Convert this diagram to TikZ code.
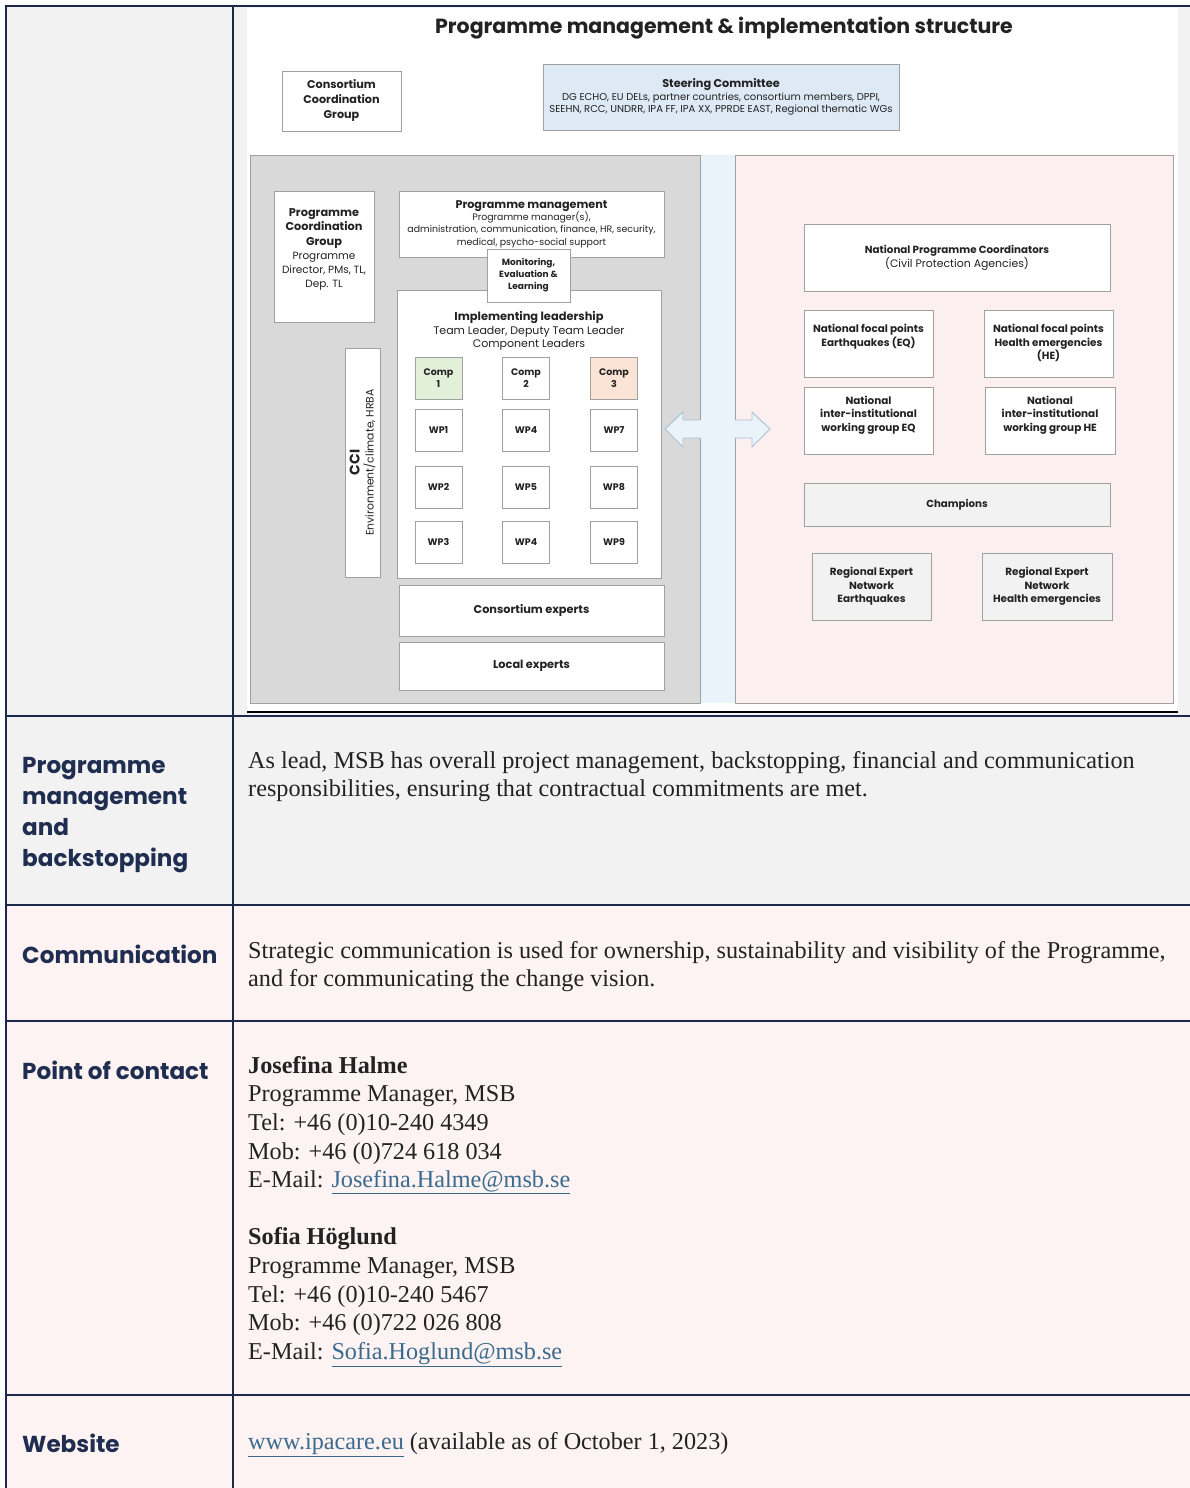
\documentclass[tikz,border=0pt]{standalone}
\usepackage{fontspec}
\setmainfont{Liberation Serif}
\newfontfamily\gothic{Poppins}
\usetikzlibrary{shadows}
\definecolor{navy}{HTML}{1B2A4A}
\definecolor{cellgray}{HTML}{F2F2F2}
\definecolor{cellpink}{HTML}{FDF3F2}
\definecolor{bxgray}{HTML}{A0A0A0}
\definecolor{panelgray}{HTML}{D9D9D9}
\definecolor{stripblue}{HTML}{EAF2FA}
\definecolor{stripline}{HTML}{A9BFD4}
\definecolor{panelpink}{HTML}{FBEFEF}
\definecolor{scblue}{HTML}{DDE9F5}
\definecolor{compgreen}{HTML}{E2EFD9}
\definecolor{comppeach}{HTML}{FBE4D5}
\definecolor{dtxt}{HTML}{222222}
\definecolor{dsub}{HTML}{5A5A5A}
\definecolor{linkblue}{HTML}{3B6A8E}
\definecolor{bodytxt}{HTML}{222222}
\definecolor{labnavy}{HTML}{1F2D50}
\newcommand\dgB[2]{\gothic\bfseries\fontsize{#1}{#2}\selectfont\color{dtxt}}
\newcommand\dgR[2]{\gothic\mdseries\fontsize{#1}{#2}\selectfont\color{dsub}}
\begin{document}
\begin{tikzpicture}[x=1pt,y=-1pt,
  box/.style={draw=bxgray, line width=0.9pt, fill=white, inner sep=0pt, align=center, text=dtxt,
    drop shadow={shadow xshift=0.8pt, shadow yshift=-1.4pt, opacity=0.35, fill=gray}},
  dlab/.style={inner sep=0pt, align=center, text=dtxt},
  sidelab/.style={inner sep=0pt, anchor=north west, align=left, text=labnavy, font=\gothic\bfseries\fontsize{23.1}{31}\selectfont},
  bodylab/.style={inner sep=0pt, anchor=north west, align=left, text=bodytxt, font=\fontsize{24.2}{28.6}\selectfont},
  tline/.style={draw=navy, line width=2.6pt},
  comp/.style={box, minimum width=47pt, minimum height=42pt, font=\dgB{9.5}{12}},
  wp/.style={box, minimum width=47pt, minimum height=42pt, font=\dgB{9.5}{12}},
  twoline/.style={font=\dgB{10.4}{13.5}}
]
\useasboundingbox (0,0) rectangle (1190,1488);
% ---------- table backgrounds ----------
\fill[white] (0,0) rectangle (1190,1488);
\fill[cellgray] (6,6) rectangle (1190,905);
\fill[cellpink] (6,905) rectangle (1190,1488);
\fill[white] (247,8) rectangle (1178,712);
% ---------- diagram ----------
\node[dlab, font=\dgB{20.5}{24}] (title) at (724,28) {Programme management \& implementation structure};
\node[box, minimum width=119pt, minimum height=60pt, font=\dgB{11.2}{15}] (ccg) at (341.5,101) {Consortium\\Coordination\\Group};
\node[box, fill=scblue, minimum width=356pt, minimum height=66pt, font=\dgR{10}{12.5}] (sc) at (721,97)
  {\dgB{11.3}{13}Steering Committee\\DG ECHO, EU DELs, partner countries, consortium members, DPPI,\\SEEHN, RCC, UNDRR, IPA FF, IPA XX, PPRDE EAST, Regional thematic WGs};
% panels
\fill[panelgray] (250,155) rectangle (700,703);
\fill[stripblue] (700,155) rectangle (735,703);
\fill[panelpink] (735,155) rectangle (1173,703);
\draw[bxgray, line width=0.9pt] (700,420) -- (700,155) -- (250,155) -- (250,703) -- (700,703) -- (700,438);
\draw[bxgray, line width=0.9pt] (735,420) -- (735,155) -- (1173,155) -- (1173,703) -- (735,703) -- (735,438);
% double arrow
\coordinate (al) at (665,429);
\coordinate (ar) at (770,429);
\fill[stripblue] (al) -- (683,412) -- (683,420) -- (752,420) -- (752,412) -- (ar) -- (752,447) -- (752,438) -- (683,438) -- (683,447) -- cycle;
\draw[stripline, line width=0.9pt, line join=round] (700,420) -- (683,420) -- (683,412) -- (al) -- (683,447) -- (683,438) -- (700,438);
\draw[stripline, line width=0.9pt, line join=round] (735,420) -- (752,420) -- (752,412) -- (ar) -- (752,447) -- (752,438) -- (735,438);
% left side boxes
\node[box, minimum width=100pt, minimum height=131pt] (pcg) at (324,256.5) {};
\node[dlab, anchor=north, font=\dgR{10.5}{14.2}] (pcgt) at ([yshift=-18pt]pcg.north) {\dgB{11.3}{15}Programme\\\dgB{11.3}{15}Coordination\\\dgB{11.3}{15}Group\\Programme\\Director, PMs, TL,\\Dep. TL};
\node[box, minimum width=265pt, minimum height=66pt, font=\dgR{9.4}{12.4}] (pm) at (531.5,224)
  {\dgB{11.2}{13}Programme management\\Programme manager(s),\\administration, communication, finance, HR, security,\\medical, psycho-social support};
\node[box, minimum width=264pt, minimum height=288pt] (il) at (529,434) {};
\node[box, minimum width=83pt, minimum height=53pt, font=\dgB{9}{12}] (mel) at (528.5,275.5) {Monitoring,\\Evaluation \&\\Learning};
\node[dlab, anchor=north, font=\dgR{11}{13.5}] (ilt) at ([yshift=-22pt]il.north) {\dgB{11.4}{14}Implementing leadership\\Team Leader, Deputy Team Leader\\Component Leaders};
\node[comp, fill=compgreen] (c1) at (438.5,378) {Comp\\1};
\node[comp] (c2) at (526,378) {Comp\\2};
\node[comp, fill=comppeach] (c3) at (614,378) {Comp\\3};
\node[wp] (wp1) at (438.5,430) {WP1};
\node[wp] (wp4a) at (526,430) {WP4};
\node[wp] (wp7) at (614,430) {WP7};
\node[wp] (wp2) at (438.5,487) {WP2};
\node[wp] (wp5) at (526,487) {WP5};
\node[wp] (wp8) at (614,487) {WP8};
\node[wp] (wp3) at (438.5,542) {WP3};
\node[wp] (wp4b) at (526,542) {WP4};
\node[wp] (wp9) at (614,542) {WP9};
\node[box, minimum width=35pt, minimum height=229pt] (cci) at (362.5,462.5) {};
\node[dlab, rotate=90, font=\dgR{10.8}{14}] (ccit) at (cci.center) {\dgB{14}{15}CCI\\Environment/climate, HRBA};
\node[box, minimum width=265pt, minimum height=51pt, font=\dgB{11.3}{13}] (ce) at (531.5,610.5) {Consortium experts};
\node[box, minimum width=265pt, minimum height=48pt, font=\dgB{11.3}{13}] (le) at (531.5,666) {Local experts};
% right side boxes
\node[box, minimum width=306pt, minimum height=67pt, font=\dgR{10.9}{14}] (npc) at (957,257.5) {\dgB{10.3}{14}National Programme Coordinators\\(Civil Protection Agencies)};
\node[box, minimum width=129pt, minimum height=67pt] (nfpeq) at (868.5,343.5) {};
\node[dlab, anchor=north, twoline] (nfpeqt) at ([yshift=-14.5pt]nfpeq.north) {National focal points\\Earthquakes (EQ)};
\node[box, minimum width=129pt, minimum height=67pt] (nfphe) at (1048.5,343.5) {};
\node[dlab, anchor=north, twoline] (nfphet) at ([yshift=-14.5pt]nfphe.north) {National focal points\\Health emergencies\\(HE)};
\node[box, minimum width=129pt, minimum height=67pt] (niieq) at (868.5,420.5) {};
\node[dlab, anchor=north, twoline] (niieqt) at ([yshift=-9pt]niieq.north) {National\\inter-institutional\\working group EQ};
\node[box, minimum width=130pt, minimum height=67pt] (niihe) at (1050,420.5) {};
\node[dlab, anchor=north, twoline] (niihet) at ([yshift=-9pt]niihe.north) {National\\inter-institutional\\working group HE};
\node[box, fill=cellgray, minimum width=306pt, minimum height=43pt, font=\dgB{10.2}{13}] (champ) at (957,504.5) {Champions};
\node[box, fill=cellgray, minimum width=119pt, minimum height=67pt, twoline] (reneq) at (871.5,586.5) {Regional Expert\\Network\\Earthquakes};
\node[box, fill=cellgray, minimum width=130pt, minimum height=67pt, twoline] (renhe) at (1047,586.5) {Regional Expert\\Network\\Health emergencies};
\draw[black, line width=2pt] (247,711.5) -- (1178,711.5);
% ---------- table lines ----------
\draw[tline] (6,4.7) -- (6,1488);
\draw[tline] (233,4.7) -- (233,1488);
\draw[tline] (4.7,6) -- (1190,6);
\draw[tline] (4.7,716) -- (1190,716);
\draw[tline] (4.7,905) -- (1190,905);
\draw[tline] (4.7,1021) -- (1190,1021);
\draw[tline] (4.7,1395) -- (1190,1395);
% ---------- table text ----------
\node[sidelab] (l1) at (22,757) {Programme\\management\\and\\backstopping};
\node[sidelab] (l2) at (22,945) {Communication};
\node[sidelab] (l3) at (22,1061) {Point of contact};
\node[sidelab] (l4) at (22,1434) {Website};
\node[bodylab] (b1) at (248,751) {As lead, MSB has overall project management, backstopping, financial and communication\\responsibilities, ensuring that contractual commitments are met.};
\node[bodylab] (b2) at (248,941) {Strategic communication is used for ownership, sustainability and visibility of the Programme,\\and for communicating the change vision.};
\node[bodylab] (b3) at (248,1056) {\textbf{Josefina Halme}\\Programme Manager, MSB\\Tel: +46 (0)10-240 4349\\Mob: +46 (0)724 618 034\\E-Mail: {\color{linkblue}\underline{Josefina.Halme@msb.se}}\\[28.6pt]\textbf{Sofia Höglund}\\Programme Manager, MSB\\Tel: +46 (0)10-240 5467\\Mob: +46 (0)722 026 808\\E-Mail: {\color{linkblue}\underline{Sofia.Hoglund@msb.se}}};
\node[bodylab] (b4) at (248,1432) {{\color{linkblue}\underline{www.ipacare.eu}} (available as of October 1, 2023)};
\end{tikzpicture}
\end{document}
